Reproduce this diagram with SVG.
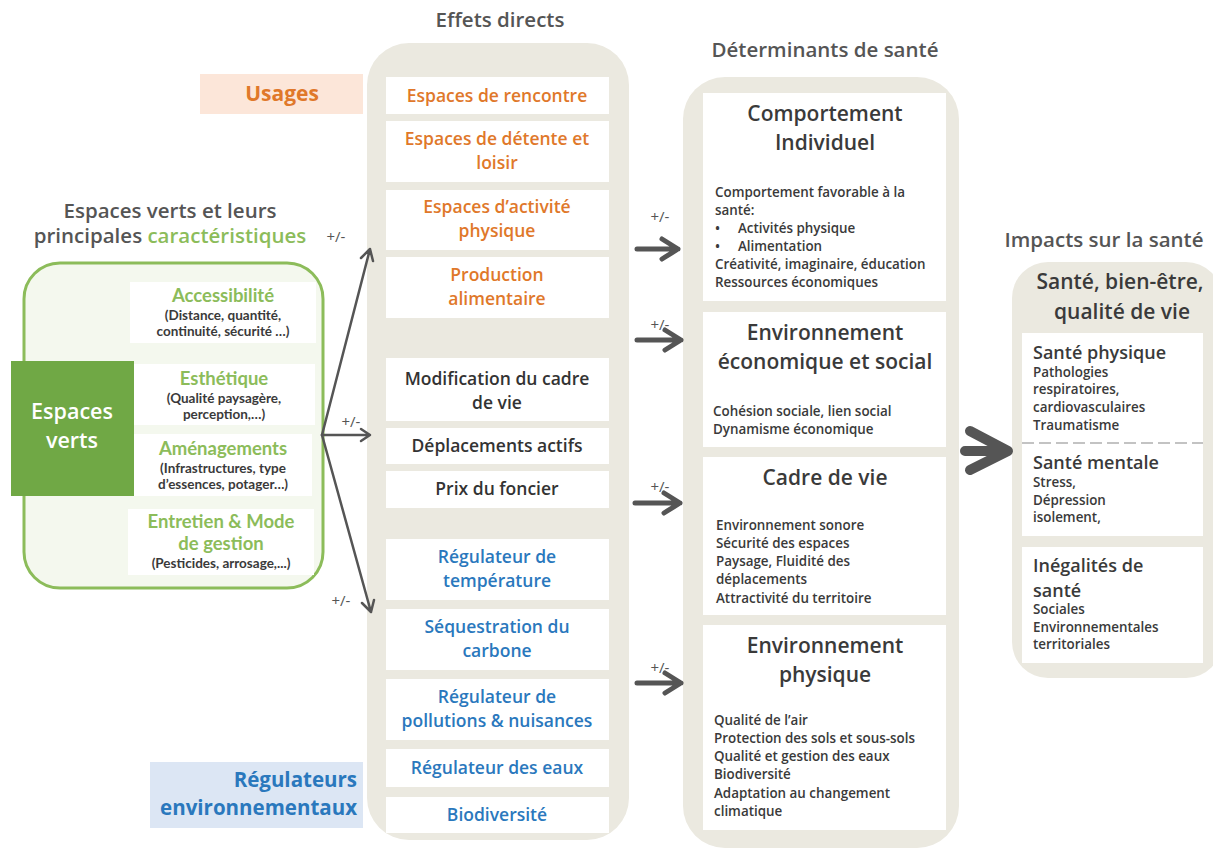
<svg xmlns="http://www.w3.org/2000/svg" width="1213" height="849" viewBox="0 0 1213 849">
<defs>
<style>
text{font-family:"Open Sans","Liberation Sans",sans-serif;}
.h{font-size:20.5px;font-weight:600;fill:#555;text-anchor:middle;}
.panel{fill:#ebe9e0;}
.wb{fill:#fff;}
.mo{font-size:17.5px;font-weight:600;fill:#e0782a;text-anchor:middle;}
.mk{font-size:17.5px;font-weight:600;fill:#333;text-anchor:middle;}
.mb{font-size:17.5px;font-weight:600;fill:#2a78bd;text-anchor:middle;}
.rt{font-size:21px;font-weight:600;fill:#3a3a3a;text-anchor:middle;}
.rb{font-size:13.4px;font-weight:600;fill:#3a3a3a;}
text.gt{font-family:Lato,"Open Sans",sans-serif;font-size:18.5px;font-weight:700;fill:#8cbc5a;text-anchor:middle;}
text.gs{font-family:Lato,"Open Sans",sans-serif;font-size:13.5px;font-weight:700;fill:#3a3a3a;text-anchor:middle;}
.st{font-size:18px;font-weight:600;fill:#3a3a3a;}
.pm{font-size:15px;fill:#555;text-anchor:middle;}
.thin{stroke:#555;stroke-width:2.5;fill:none;stroke-linecap:round;stroke-linejoin:round;}
.med{stroke:#555;stroke-width:5;fill:none;stroke-linecap:round;stroke-linejoin:round;}
.big{stroke:#555;stroke-width:10;fill:none;stroke-linecap:round;stroke-linejoin:round;}
</style>
</defs>

<rect width="1213" height="849" fill="#fff"/>

<!-- headings -->
<g id="headings">
<text class="h" x="500" y="27">Effets directs</text>
<text class="h" x="825" y="57">Déterminants de santé</text>
<text class="h" x="1104" y="247">Impacts sur la santé</text>
<text class="h" x="170" y="218">Espaces verts et leurs</text>
<text class="h" x="170" y="243">principales <tspan fill="#8cbc5a">caractéristiques</tspan></text>
</g>

<!-- Usages label -->
<g id="usages">
<rect x="200" y="74" width="163" height="40" fill="#fce6d9"/>
<text x="282" y="101" font-size="21" font-weight="700" fill="#e0782a" text-anchor="middle">Usages</text>
</g>

<!-- Regulateurs label -->
<g id="regulateurs">
<rect x="150" y="762" width="213" height="66" fill="#dce6f4"/>
<text x="357" y="787" font-size="20.5" font-weight="700" fill="#2a78bd" text-anchor="end">Régulateurs</text>
<text x="357" y="815" font-size="20.5" font-weight="700" fill="#2a78bd" text-anchor="end">environnementaux</text>
</g>

<!-- Left panel -->
<g id="espaces-verts">
<rect x="24" y="263" width="299" height="325" rx="36" fill="#f4f8ee" stroke="#8cbc5a" stroke-width="3"/>
<g id="accessibilite">
<rect x="130" y="282" width="186" height="61" class="wb"/>
<text class="gt" x="223" y="302">Accessibilité</text>
<text class="gs" x="223" y="320">(Distance, quantité,</text>
<text class="gs" x="223" y="336">continuité,  sécurité …)</text>
</g>
<g id="esthetique">
<rect x="134" y="364" width="181" height="61" class="wb"/>
<text class="gt" x="224" y="385">Esthétique</text>
<text class="gs" x="224" y="403">(Qualité paysagère,</text>
<text class="gs" x="224" y="419">perception,…)</text>
</g>
<g id="amenagements">
<rect x="134" y="434" width="178" height="62" class="wb"/>
<text class="gt" x="223" y="455">Aménagements</text>
<text class="gs" x="223" y="473">(Infrastructures, type</text>
<text class="gs" x="223" y="489">d’essences, potager…)</text>
</g>
<g id="entretien">
<rect x="128" y="509" width="186" height="66" class="wb"/>
<text class="gt" x="221" y="528">Entretien &amp; Mode</text>
<text class="gt" x="221" y="550">de gestion</text>
<text class="gs" x="221" y="568">(Pesticides, arrosage,...)</text>
</g>
<g id="espaces-verts-label">
<rect x="11" y="361" width="123" height="135" fill="#70a845"/>
<text x="72" y="419" font-size="21.5" font-weight="600" fill="#fff" text-anchor="middle">Espaces</text>
<text x="72" y="448" font-size="21.5" font-weight="600" fill="#fff" text-anchor="middle">verts</text>
</g>
</g>

<!-- Middle column -->
<g id="effets-directs">
<rect x="367" y="43" width="262" height="797" rx="42" class="panel"/>
<rect x="386" y="77" width="223" height="37" class="wb"/>
<text class="mo" x="497" y="102">Espaces de rencontre</text>
<rect x="386" y="121" width="223" height="61" class="wb"/>
<text class="mo" x="497" y="145">Espaces de détente et</text>
<text class="mo" x="497" y="169">loisir</text>
<rect x="386" y="190" width="223" height="60" class="wb"/>
<text class="mo" x="497" y="213">Espaces d’activité</text>
<text class="mo" x="497" y="237">physique</text>
<rect x="386" y="257" width="223" height="61" class="wb"/>
<text class="mo" x="497" y="281">Production</text>
<text class="mo" x="497" y="305">alimentaire</text>

<rect x="386" y="358" width="223" height="63" class="wb"/>
<text class="mk" x="497" y="385">Modification du cadre</text>
<text class="mk" x="497" y="409">de vie</text>
<rect x="386" y="428" width="223" height="36" class="wb"/>
<text class="mk" x="497" y="452">Déplacements actifs</text>
<rect x="386" y="471" width="223" height="37" class="wb"/>
<text class="mk" x="497" y="495">Prix du foncier</text>

<rect x="386" y="539" width="223" height="61" class="wb"/>
<text class="mb" x="497" y="563">Régulateur de</text>
<text class="mb" x="497" y="587">température</text>
<rect x="386" y="609" width="223" height="61" class="wb"/>
<text class="mb" x="497" y="633">Séquestration du</text>
<text class="mb" x="497" y="657">carbone</text>
<rect x="386" y="679" width="223" height="61" class="wb"/>
<text class="mb" x="497" y="703">Régulateur de</text>
<text class="mb" x="497" y="727">pollutions &amp; nuisances</text>
<rect x="386" y="749" width="223" height="38" class="wb"/>
<text class="mb" x="497" y="774">Régulateur des  eaux</text>
<rect x="386" y="797" width="223" height="36" class="wb"/>
<text class="mb" x="497" y="821">Biodiversité</text>
</g>

<!-- Right column -->
<g id="determinants">
<rect x="683" y="77" width="276" height="771" rx="42" class="panel"/>
<rect x="703" y="93" width="243" height="208" class="wb"/>
<text class="rt" x="825" y="121">Comportement</text>
<text class="rt" x="825" y="150">Individuel</text>
<text class="rb" x="715" y="197">Comportement favorable à la</text>
<text class="rb" x="715" y="215">santé:</text>
<text class="rb" x="715" y="233">•<tspan x="738">Activités physique</tspan></text>
<text class="rb" x="715" y="251">•<tspan x="738">Alimentation</tspan></text>
<text class="rb" x="715" y="269">Créativité, imaginaire, éducation</text>
<text class="rb" x="715" y="287">Ressources économiques</text>

<rect x="703" y="312" width="243" height="135" class="wb"/>
<text class="rt" x="825" y="340">Environnement</text>
<text class="rt" x="825" y="369">économique et social</text>
<text class="rb" x="713" y="416">Cohésion sociale, lien social</text>
<text class="rb" x="713" y="434">Dynamisme économique</text>

<rect x="703" y="457" width="243" height="158" class="wb"/>
<text class="rt" x="825" y="485">Cadre de vie</text>
<text class="rb" x="716" y="530">Environnement sonore</text>
<text class="rb" x="716" y="548">Sécurité des espaces</text>
<text class="rb" x="716" y="566">Paysage, Fluidité des</text>
<text class="rb" x="716" y="584">déplacements</text>
<text class="rb" x="716" y="603">Attractivité du territoire</text>

<rect x="703" y="625" width="243" height="205" class="wb"/>
<text class="rt" x="825" y="653">Environnement</text>
<text class="rt" x="825" y="682">physique</text>
<text class="rb" x="714" y="725">Qualité de l’air</text>
<text class="rb" x="714" y="743">Protection des sols et sous-sols</text>
<text class="rb" x="714" y="761">Qualité et gestion des eaux</text>
<text class="rb" x="714" y="779">Biodiversité</text>
<text class="rb" x="714" y="798">Adaptation au changement</text>
<text class="rb" x="714" y="816">climatique</text>
</g>

<!-- Far right panel -->
<g id="impacts">
<rect x="1012" y="262" width="210" height="416" rx="36" class="panel"/>
<text class="rt" x="1120" y="289" font-size="22">Santé, bien-être,</text>
<text class="rt" x="1122" y="319" font-size="22">qualité de vie</text>
<rect x="1022" y="333" width="181" height="203" class="wb"/>
<text class="st" x="1033" y="359">Santé physique</text>
<text class="rb" x="1033" y="377">Pathologies</text>
<text class="rb" x="1033" y="394">respiratoires,</text>
<text class="rb" x="1033" y="412">cardiovasculaires</text>
<text class="rb" x="1033" y="430">Traumatisme</text>
<line x1="1022" y1="443" x2="1203" y2="443" stroke="#888" stroke-width="1.2" stroke-dasharray="12,5"/>
<text class="st" x="1033" y="469">Santé mentale</text>
<text class="rb" x="1033" y="487">Stress,</text>
<text class="rb" x="1033" y="505">Dépression</text>
<text class="rb" x="1033" y="522">isolement,</text>
<rect x="1022" y="547" width="181" height="116" class="wb"/>
<text class="st" x="1033" y="572">Inégalités de</text>
<text class="st" x="1033" y="597">santé</text>
<text class="rb" x="1033" y="614">Sociales</text>
<text class="rb" x="1033" y="632">Environnementales</text>
<text class="rb" x="1033" y="649">territoriales</text>
</g>

<!-- Connectors -->
<g id="connectors">
<path class="thin" d="M322 435 L370 249 M361 258 L370 249 L373 261"/>
<path class="thin" d="M322 435 L370 435 M361 429 L370 435 L361 441"/>
<path class="thin" d="M322 435 L371 612 M362 603 L371 612 L374 600"/>
<text class="pm" x="336" y="242">+/-</text>
<text class="pm" x="351" y="427">+/-</text>
<text class="pm" x="341" y="606">+/-</text>

<path class="med" d="M637 249 L678 249 M662 239 L678 249 L662 259"/>
<path class="med" d="M637 340 L681 340 M665 330 L681 340 L665 350"/>
<path class="med" d="M635 503 L680 503 M664 493 L680 503 L664 513"/>
<path class="med" d="M637 683 L681 683 M665 673 L681 683 L665 693"/>
<text class="pm" x="660" y="222">+/-</text>
<text class="pm" x="660" y="330">+/-</text>
<text class="pm" x="660" y="492">+/-</text>
<text class="pm" x="660" y="673">+/-</text>

<path class="big" d="M965 451 L1000 451 M970 431 L1008 451 L970 470"/>
</g>
</svg>
